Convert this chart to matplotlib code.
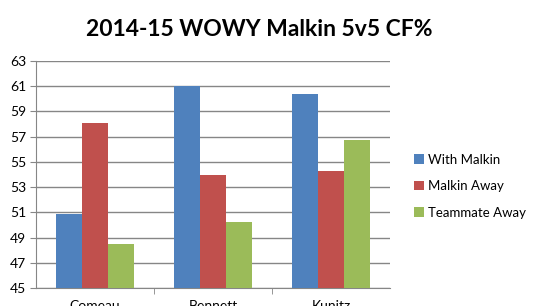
import numpy as np
import matplotlib.pyplot as plt

players = ["Comeau", "Bennett", "Kunitz"]
series = ["With Malkin", "Malkin Away", "Teammate Away"]
with_malkin = [50.9, 61.0, 60.4]
malkin_away = [58.1, 54.0, 54.3]
teammate_away = [48.5, 50.2, 56.7]
colors = ["#4F81BD", "#C0504D", "#9BBB59"]

plt.rcParams["font.family"] = ["Lato", "DejaVu Sans"]

fig = plt.figure(figsize=(5.44, 3.06), dpi=100)
ax = fig.add_axes([36 / 544, 1 - 288 / 306, (390 - 36) / 544, (288 - 61) / 306])

x = np.arange(len(players))
w = 0.22
for i, (vals, name) in enumerate(zip([with_malkin, malkin_away, teammate_away], series)):
    ax.bar(x + (i - 1) * w, np.array(vals) - 45, bottom=45, width=w,
           color=colors[i], label=name, zorder=3)

ax.set_ylim(45, 63)
ax.set_xlim(-0.5, 2.5)
ax.set_yticks(range(45, 64, 2))
ax.grid(axis="y", color="#868686", linewidth=1, zorder=0)
ax.tick_params(axis="y", length=4, color="#868686", labelsize=10, pad=3)

ax.set_xticks(x)
ax.set_xticklabels(players, fontsize=10)
ax.tick_params(axis="x", length=0, pad=9)
ax.set_xticks([0.5, 1.5], minor=True)
ax.tick_params(axis="x", which="minor", length=4, color="#868686")

for s in ["top", "right"]:
    ax.spines[s].set_visible(False)
for s in ["left", "bottom"]:
    ax.spines[s].set_color("#868686")

fig.text(0.476, 0.905, "2014-15 WOWY Malkin 5v5 CF%", ha="center", va="center",
         fontsize=16.5, fontweight="bold")

fig.legend(loc="center left", bbox_to_anchor=(0.74, 0.392), frameon=False,
           fontsize=9.5, handlelength=0.75, handleheight=0.75, handletextpad=0.3,
           labelspacing=1.1)

fig.savefig("out.png", dpi=100)
